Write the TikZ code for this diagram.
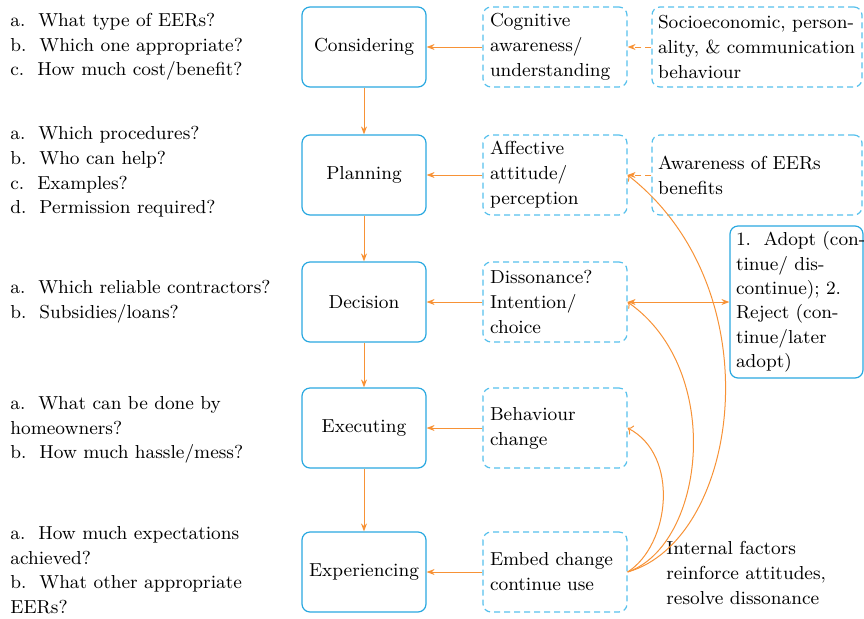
\documentclass[tikz,border=0pt]{standalone}
\usetikzlibrary{arrows.meta}
\definecolor{boxblue}{RGB}{41,168,224}
\definecolor{dashblue}{RGB}{86,192,236}
\definecolor{arrorange}{RGB}{247,146,54}
\newcommand{\oneline}[1]{\mbox{#1}}
\tikzset{
  stagebox/.style={draw=boxblue, line width=0.6pt, rounded corners=4pt,
    minimum width=62pt, minimum height=40pt, align=center, inner sep=0pt,
    font=\fontsize{9.4}{12.5}\selectfont},
  midbox/.style={draw=dashblue, line width=0.6pt, rounded corners=4pt, dash pattern=on 3pt off 2pt,
    minimum width=72pt, minimum height=40pt, text width=65pt, align=left, inner xsep=3.5pt, inner ysep=0pt,
    font=\fontsize{9.4}{12.5}\selectfont},
  rightbox/.style={draw=dashblue, line width=0.6pt, rounded corners=4pt, dash pattern=on 3pt off 2pt,
    minimum width=105pt, minimum height=40pt, text width=99pt, align=left, inner xsep=3pt, inner ysep=0pt,
    font=\fontsize{9.4}{12.5}\selectfont},
  adoptbox/.style={draw=boxblue, line width=0.6pt, rounded corners=4pt,
    minimum width=66.5pt, minimum height=76pt, text width=60.5pt, align=left, inner xsep=3pt, inner ysep=0pt,
    font=\fontsize{9.4}{12.2}\selectfont},
  qtext/.style={anchor=west, align=left, inner sep=0pt, font=\fontsize{9.4}{12.3}\selectfont},
  flow/.style={draw=arrorange, line width=0.5pt, -{Stealth[length=4pt,width=3pt]}},
  dflow/.style={draw=arrorange, line width=0.5pt, dash pattern=on 3pt off 2pt, -{Stealth[length=4pt,width=3pt]}},
  curveflow/.style={draw=arrorange, line width=0.5pt, -{To[length=2.5pt,width=5pt]}},
}
\begin{document}
\begin{tikzpicture}[x=0.5pt, y=-0.5pt]
\useasboundingbox (0,0) rectangle (864,618);

% stage boxes
\node[stagebox] (s1) at (364,47) {Considering};
\node[stagebox] (s2) at (364,175) {Planning};
\node[stagebox] (s3) at (364,302) {Decision};
\node[stagebox] (s4) at (364,428) {Executing};
\node[stagebox] (s5) at (364,572) {Experiencing};

% middle boxes
\node[midbox] (m1) at (555,47) {Cognitive\\awareness/\\understanding};
\node[midbox] (m2) at (555,175) {Affective\\attitude/\\perception};
\node[midbox] (m3) at (555,302) {Dissonance?\\Intention/\\choice};
\node[midbox] (m4) at (555,428) {Behaviour\\change};
\node[midbox] (m5) at (555,572) {Embed change\\continue use};

% right boxes
\node[rightbox] (r1) at (757,47) {\oneline{Socioeconomic, person-}\\\oneline{ality, \& communication}\\\oneline{behaviour}};
\node[rightbox] (r2) at (757,175) {\oneline{Awareness of EERs}\\\oneline{benefits}};
\node[adoptbox] (ad) at (796.5,302) {\oneline{1.\ \ Adopt (con-}\\\oneline{tinue/ dis-}\\\oneline{continue); 2.}\\\oneline{Reject (con-}\\\oneline{tinue/later}\\\oneline{adopt)}};

% internal factors text
\node[qtext] (inf) at (666,573) {Internal factors\\reinforce attitudes,\\resolve dissonance};

% left questions
\node[qtext] (q1) at (10,47) {a.\ \ What type of EERs?\\b.\ \ Which one appropriate?\\c.\ \ How much cost/benefit?};
\node[qtext] (q2) at (10,172) {a.\ \ Which procedures?\\b.\ \ Who can help?\\c.\ \ Examples?\\d.\ \ Permission required?};
\node[qtext] (q3) at (10,302) {a.\ \ Which reliable contractors?\\b.\ \ Subsidies/loans?};
\node[qtext] (q4) at (10,430) {a.\ \ What can be done by\\homeowners?\\b.\ \ How much hassle/mess?};
\node[qtext] (q5) at (10,570) {a.\ \ How much expectations\\achieved?\\b.\ \ What other appropriate\\EERs?};

% vertical flow
\draw[flow] (s1) -- (s2);
\draw[flow] (s2) -- (s3);
\draw[flow] (s3) -- (s4);
\draw[flow] (s4) -- (s5);

% middle to stage
\draw[flow] (m1) -- (s1);
\draw[flow] (m2) -- (s2);
\draw[flow] (m3) -- (s3);
\draw[flow] (m4) -- (s4);
\draw[flow] (m5) -- (s5);

% right to middle
\draw[dflow] (r1) -- (m1);
\draw[dflow] (r2) -- (m2);
\draw[draw=arrorange, line width=0.5pt, {Stealth[length=4pt,width=3pt]}-{Stealth[length=4pt,width=3pt]}] (m3.east) -- (ad.west);

% feedback curves
\draw[curveflow] (m5.east) .. controls (670,545) and (680,455) .. (m4.east);
\draw[curveflow] (m5.east) .. controls (705,545) and (725,370) .. (m3.east);
\draw[curveflow] (m5.east) .. controls (740,540) and (775,290) .. (m2.east);
\end{tikzpicture}
\end{document}
